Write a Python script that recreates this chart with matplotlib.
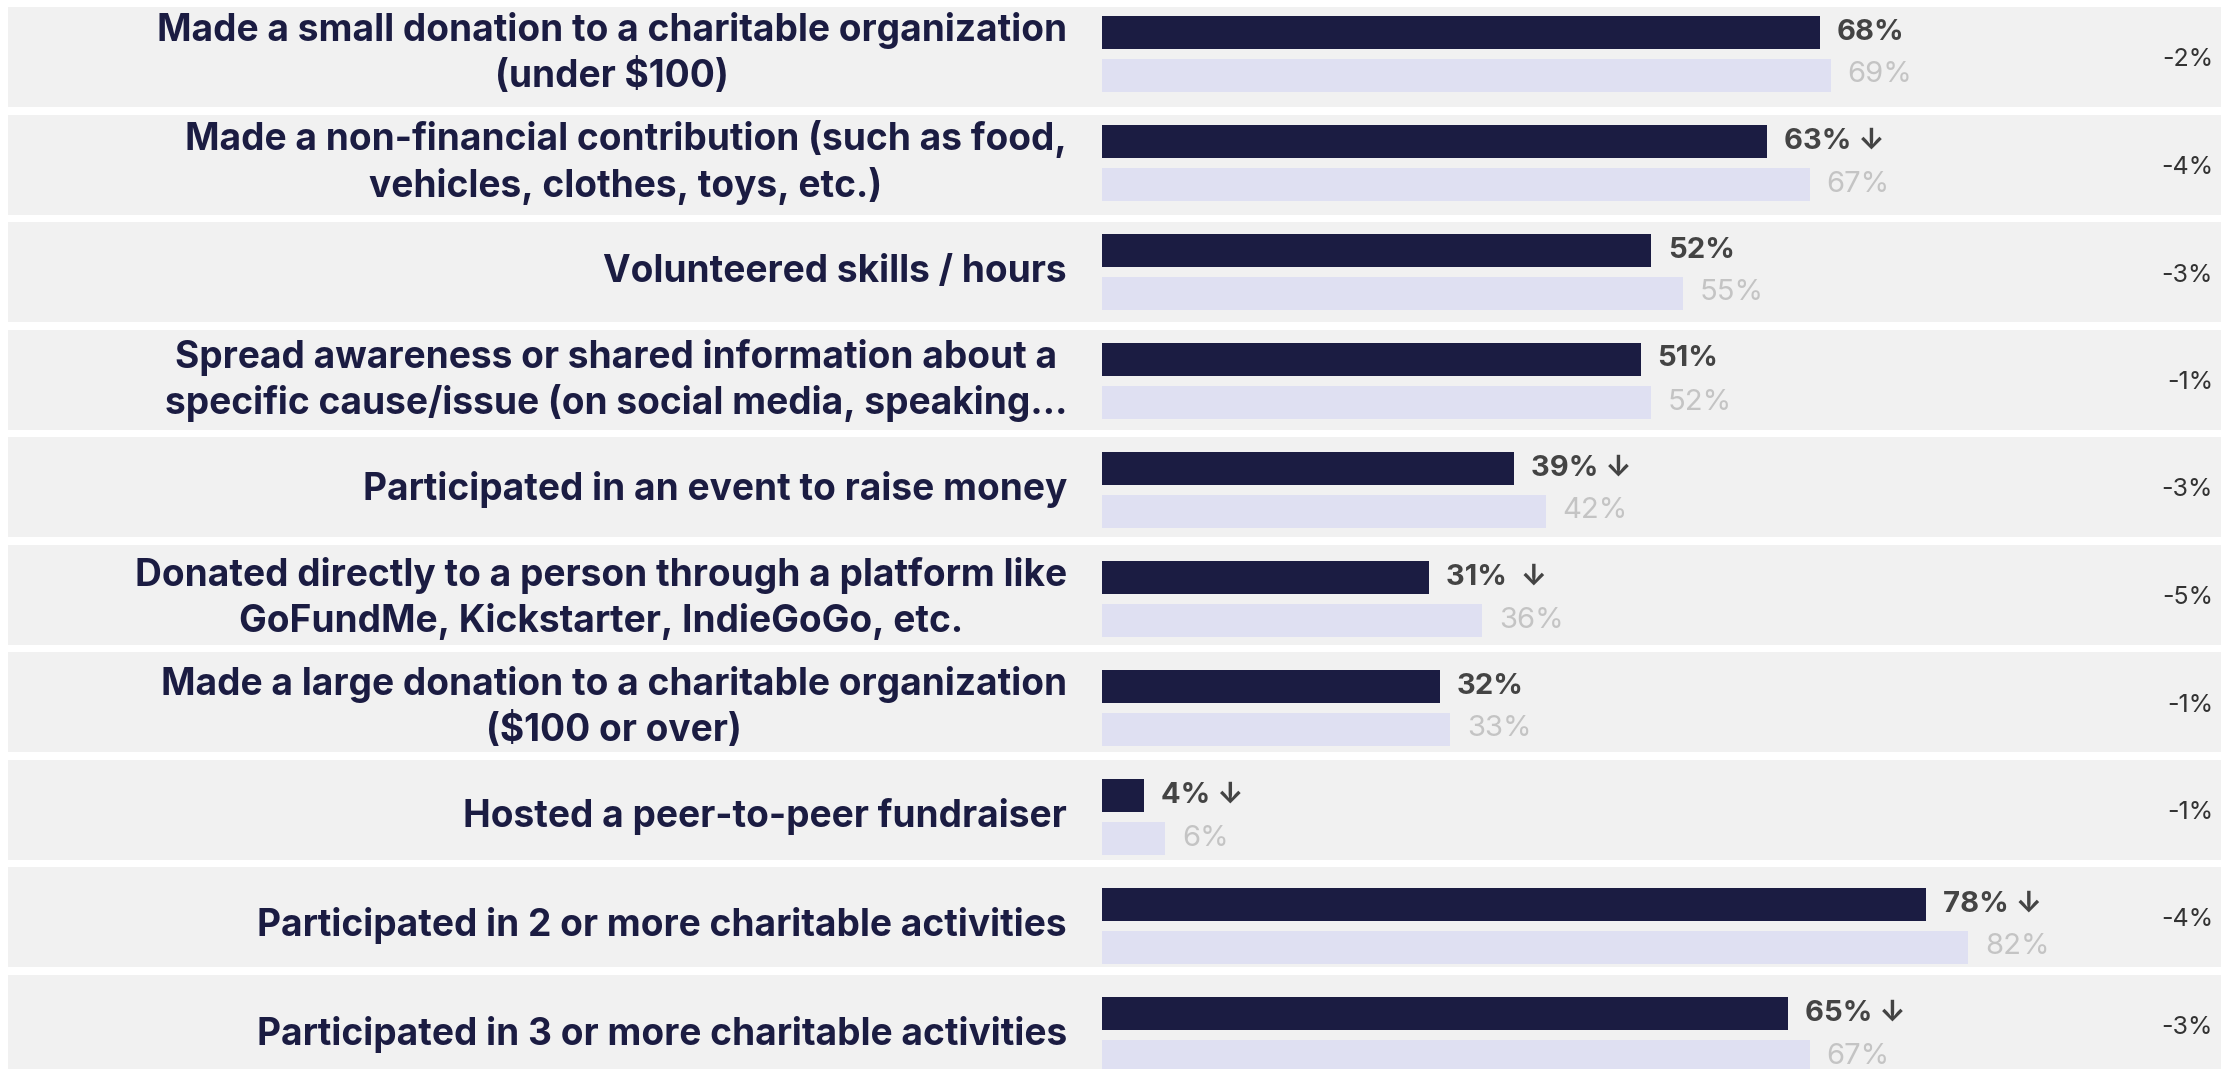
import matplotlib
matplotlib.use("Agg")
import matplotlib.pyplot as plt
import numpy as np

plt.rcParams["font.family"] = ["Inter", "DejaVu Sans"]

# -------------------------
# Data
# -------------------------

categories = [
    "Made a small donation to a charitable organization\n(under $100)",
    "Made a non-financial contribution (such as food,\nvehicles, clothes, toys, etc.)",
    "Volunteered skills / hours",
    "Spread awareness or shared information about a\nspecific cause/issue (on social media, speaking\u2026",
    "Participated in an event to raise money",
    "Donated directly to a person through a platform like\nGoFundMe, Kickstarter, IndieGoGo, etc.",
    "Made a large donation to a charitable organization\n($100 or over)",
    "Hosted a peer-to-peer fundraiser",
    "Participated in 2 or more charitable activities",
    "Participated in 3 or more charitable activities",
]
current = [68, 63, 52, 51, 39, 31, 32, 4, 78, 65]
previous = [69, 67, 55, 52, 42, 36, 33, 6, 82, 67]
change_labels = ["-2%", "-4%", "-3%", "-1%", "-3%", "-5%", "-1%", "-1%", "-4%", "-3%"]
arrows = ["", " \u2193", "", "", " \u2193", "  \u2193", "", " \u2193", " \u2193", " \u2193"]

# -------------------------
# Layout (pixels)
# -------------------------

W, H = 2221, 1069
x0 = 1102          # px where 0% sits
px_per_pct = 10.56
row_pitch = 107.5
row_h = 100
row_top0 = 7
bar_pitch = 109.0
bar_top0 = 15.5
bar_h = 33
bar_gap = 10

navy = "#1b1c42"
light = "#dfe0f2"
row_bg = "#f1f1f1"

fig = plt.figure(figsize=(W / 100, H / 100), dpi=100)
ax = fig.add_axes([0, 0, 1, 1])
ax.set_xlim(-x0 / px_per_pct, (W - x0) / px_per_pct)
ax.set_ylim(H, 0)
ax.axis("off")

n = len(categories)
idx = np.arange(n)
row_tops = row_top0 + idx * row_pitch
dark_y = bar_top0 + idx * bar_pitch + bar_h / 2
light_y = dark_y + bar_h + bar_gap
group_mid = (dark_y + light_y) / 2

for top in row_tops:
    ax.axhspan(top, top + row_h, xmin=8 / W, xmax=1, color=row_bg, lw=0, zorder=0)

ax.barh(dark_y, current, height=bar_h, color=navy, zorder=2)
ax.barh(light_y, previous, height=bar_h, color=light, zorder=2)

pad = 17 / px_per_pct
for i in range(n):
    ax.text(-35 / px_per_pct, group_mid[i], categories[i], ha="right", va="center",
            multialignment="center", fontsize=26.7, fontweight="bold", color=navy,
            linespacing=1.29)
    ax.text(current[i] + pad, dark_y[i], f"{current[i]}%{arrows[i]}", ha="left",
            va="center", fontsize=21, fontweight="bold", color="#444444")
    ax.text(previous[i] + pad, light_y[i], f"{previous[i]}%", ha="left",
            va="center", fontsize=21, color="#c4c4c4")
    ax.text((2213 - x0) / px_per_pct, row_tops[i] + row_h / 2 + 3, change_labels[i],
            ha="right", va="center", fontsize=18, color="#333333")

fig.savefig("out.png", dpi=100, facecolor="white")
